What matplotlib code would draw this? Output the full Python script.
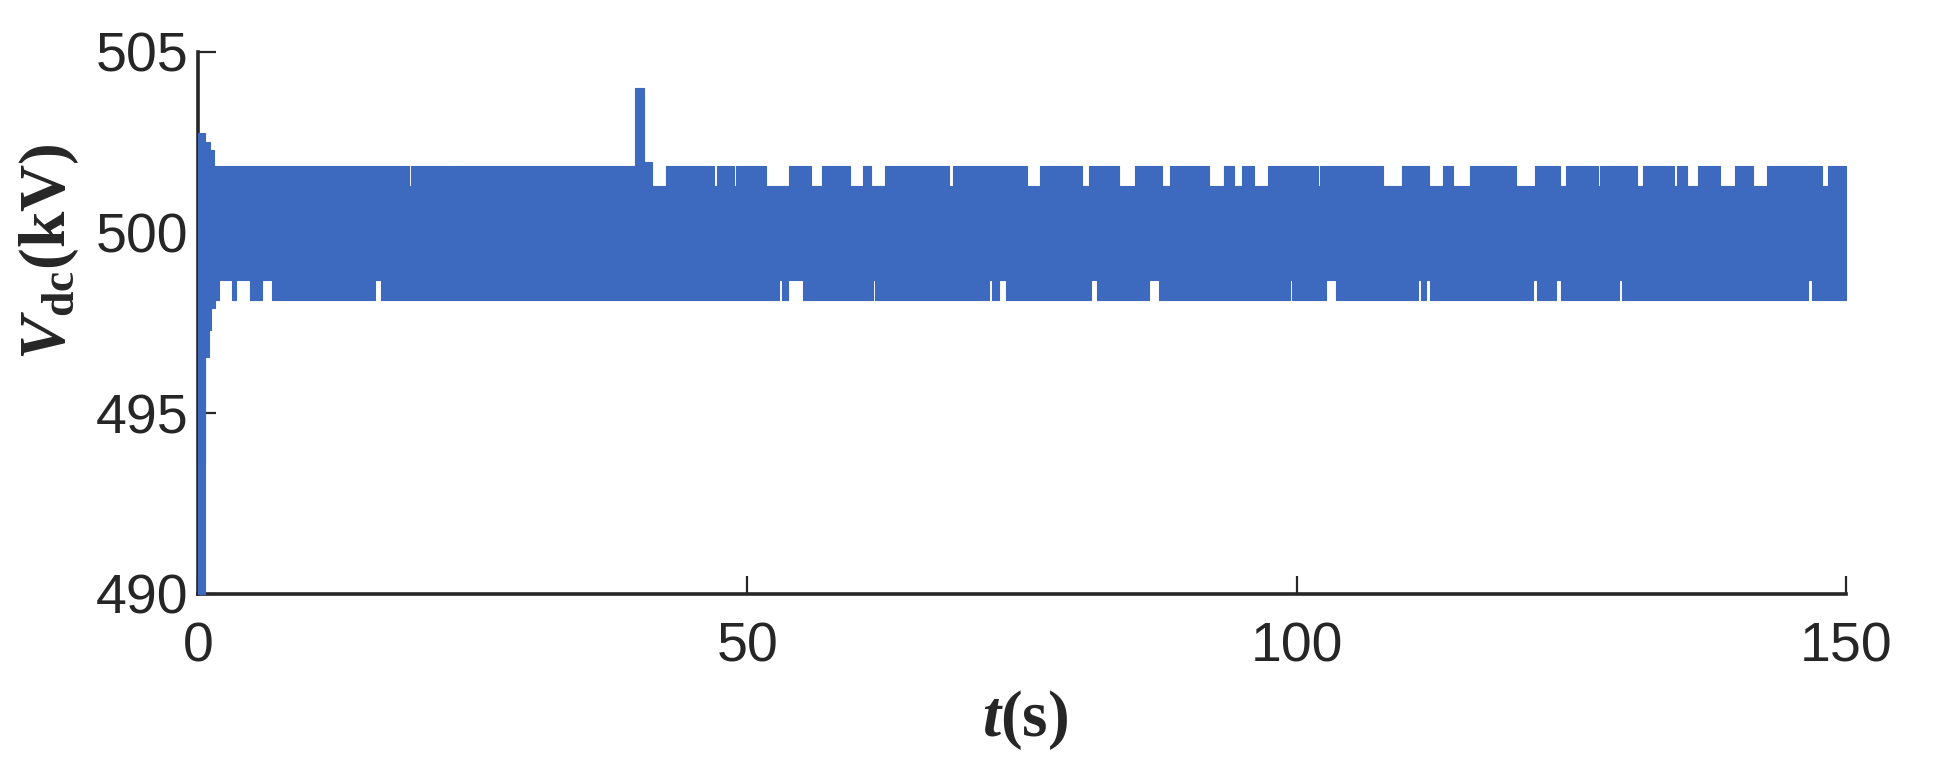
import numpy as np
import matplotlib
matplotlib.use("Agg")
import matplotlib.pyplot as plt

# ---------------- data (t in s, Vdc in kV) ----------------
core_top, core_bot = 501.3, 498.7      # band always filled by the fast oscillation
band_top, band_bot = 501.85, 498.15    # extreme swing of the oscillation

# start-up transient (step knots); last knot = start of steady band
trans_up_t = [0.0, 0.6, 1.12, 1.43]
trans_up_v = [502.76, 502.5, 502.3, 501.85]
trans_lo_t = [0.0, 0.6, 0.68, 1.03, 1.2, 1.58]
trans_lo_v = [490.0, 493.6, 496.56, 497.3, 497.92, 498.15]

# intervals where the upper swing reaches band_top
top_start = [1.43, 19.35, 23.25, 42.6, 47.2, 49.0, 53.8, 56.8, 60.5, 62.5, 68.7,
             76.6, 81.1, 85.3, 88.5, 93.4, 95.0, 97.4, 102.1, 109.6, 113.3, 115.8,
             121.7, 124.5, 127.6, 131.5, 134.6, 136.5, 139.9, 142.8, 148.4]
top_end = [19.2, 23.1, 39.8, 47.0, 48.8, 51.7, 55.8, 59.3, 61.3, 68.4, 75.5,
           80.5, 83.8, 87.7, 92.0, 94.3, 96.1, 101.9, 107.9, 112.0, 114.2, 120.0,
           124.0, 127.4, 131.0, 134.3, 135.5, 138.5, 141.5, 147.8, 150.0]

# intervals where the lower swing only reaches core_bot
bot_notch_start = [1.9, 3.5, 5.8, 16.1, 52.9, 53.7, 61.4, 72.0, 72.9, 81.3, 86.6,
                   99.4, 102.7, 111.0, 111.8, 121.5, 123.6, 129.3, 146.5]
bot_notch_end = [3.1, 4.7, 6.7, 16.7, 53.2, 55.1, 61.6, 72.3, 73.5, 81.8, 87.5,
                 99.6, 103.6, 111.3, 112.1, 121.9, 124.1, 129.6, 146.9]

# disturbance spike near t = 40 s
spike_t = [39.8, 40.6]
spike_peak = 504.0
shoulder_t = [40.6, 41.3]
shoulder_v = 501.95

t_end = 150.0

# ---------------- figure ----------------
plt.rcParams["mathtext.fontset"] = "custom"
plt.rcParams["mathtext.rm"] = "Liberation Serif:bold"
plt.rcParams["mathtext.it"] = "Liberation Serif:italic:bold"
plt.rcParams["mathtext.bf"] = "Liberation Serif:bold"

W, H = 1937, 772
fig = plt.figure(figsize=(W / 100, H / 100), dpi=100)
x0, x1, y0, y1 = 198, 1846, 594, 52
ax = fig.add_axes([x0 / W, 1 - y0 / H, (x1 - x0) / W, (y0 - y1) / H])

color = "#3D6ABE"
kw = dict(color=color, linewidth=0.8, zorder=3, clip_on=False, joinstyle="round")

def band(a, b, lo, hi):
    ax.fill_between([a, b], [lo, lo], [hi, hi], **kw)

# core band
band(0.0, t_end, core_bot, core_top)
# transient
for i in range(len(trans_up_t) - 1):
    band(trans_up_t[i], trans_up_t[i + 1], core_top, trans_up_v[i])
for i in range(len(trans_lo_t) - 1):
    band(trans_lo_t[i], trans_lo_t[i + 1], trans_lo_v[i], core_bot)
# upper swing
for s, e in zip(top_start, top_end):
    band(s, e, core_top, band_top)
# lower swing (complement of the notches)
edges = [trans_lo_t[-1]]
for s, e in zip(bot_notch_start, bot_notch_end):
    edges += [s, e]
edges.append(t_end)
for a, b in zip(edges[0::2], edges[1::2]):
    band(a, b, band_bot, core_bot)
# spike
band(spike_t[0], spike_t[1], core_top, spike_peak)
band(shoulder_t[0], shoulder_t[1], core_top, shoulder_v)

# ---------------- axes styling ----------------
ax.set_xlim(0, 150)
ax.set_ylim(490, 505)
ax.set_xticks([0, 50, 100, 150])
ax.set_yticks([490, 495, 500, 505])
for s in ["top", "right"]:
    ax.spines[s].set_visible(False)
for s in ["left", "bottom"]:
    ax.spines[s].set_linewidth(2.6)
    ax.spines[s].set_color("#262626")
ax.tick_params(direction="in", length=13, width=1.6, colors="#262626")
ax.tick_params(axis="y", pad=7)
ax.tick_params(axis="x", pad=20)
for lab in ax.get_xticklabels() + ax.get_yticklabels():
    lab.set_fontfamily("Liberation Sans")
    lab.set_fontsize(40)
    lab.set_color("#262626")

fig.text(1025 / W, 1 - 720 / H, r"$\it{t}$(s)", fontfamily="Liberation Serif",
         fontweight="bold", fontsize=47, color="#262626", ha="center", va="center")
fig.text(49 / W, 1 - 252 / H, r"$\it{V}_{\rm{dc}}$(kV)", fontfamily="Liberation Serif",
         fontweight="bold", fontsize=47, color="#262626", ha="center", va="center",
         rotation=90)

fig.savefig("out.png", dpi=100, facecolor="white")
